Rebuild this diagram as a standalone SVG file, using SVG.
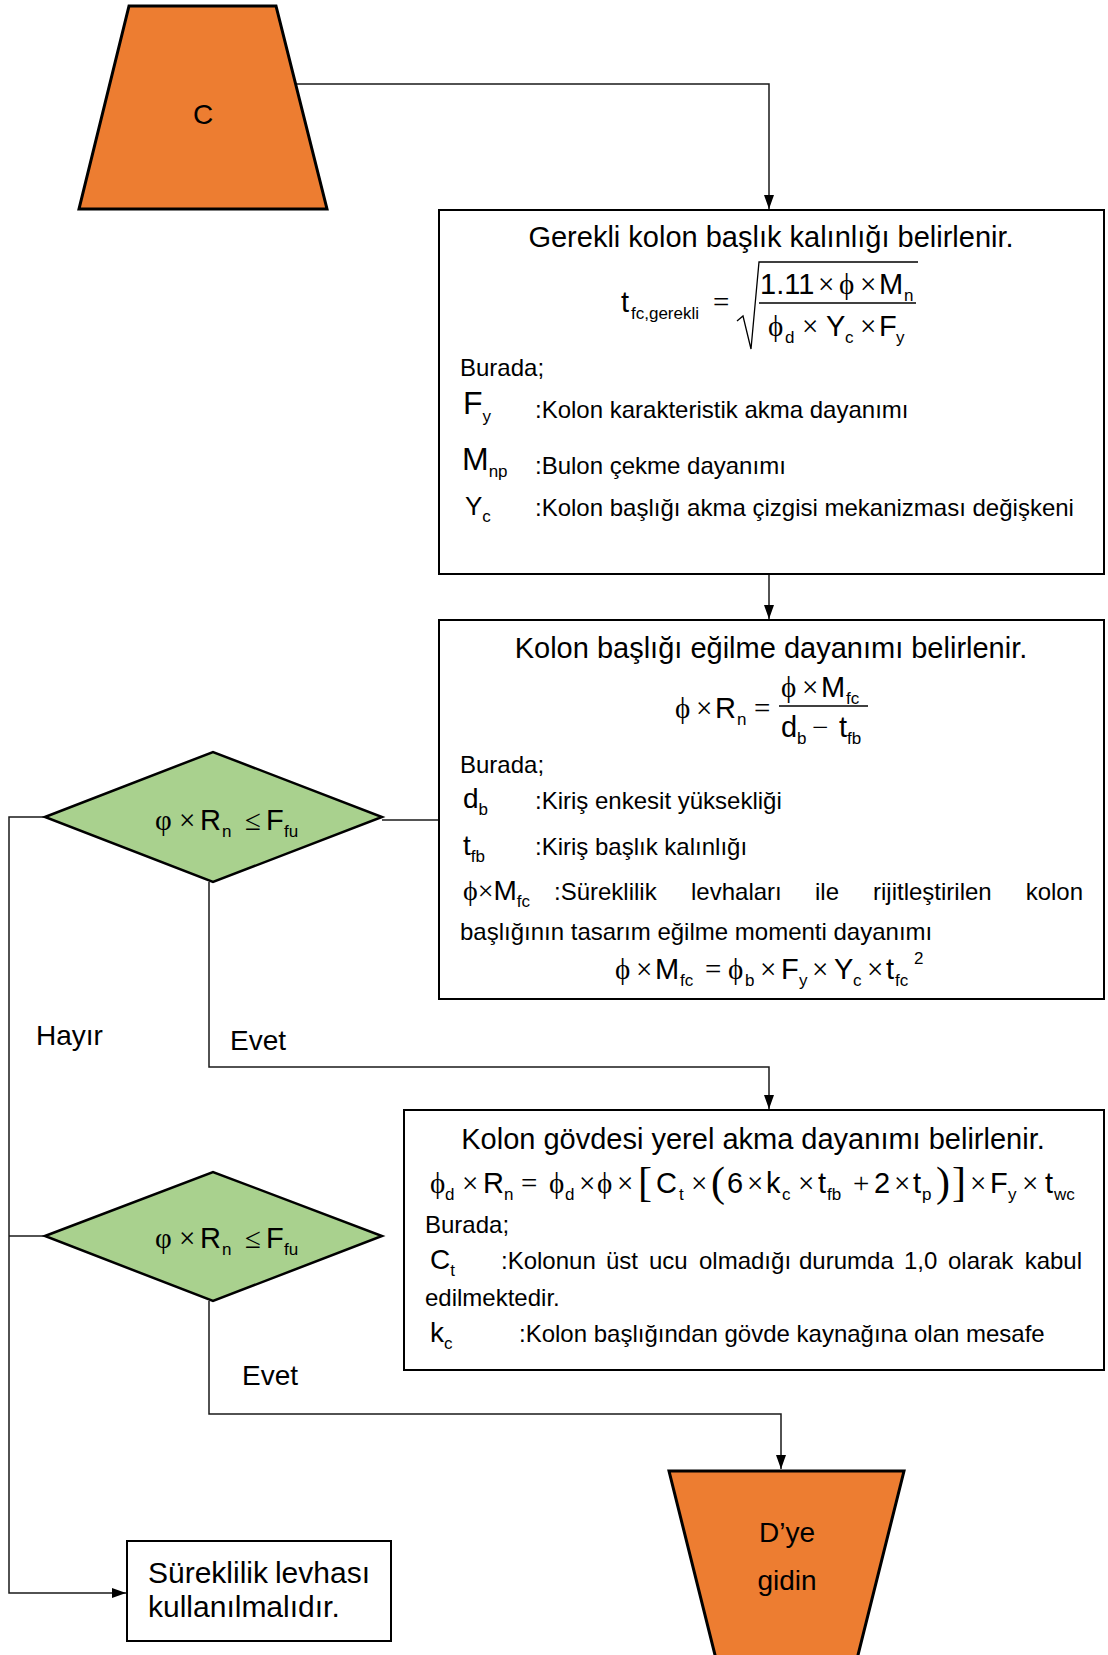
<svg xmlns="http://www.w3.org/2000/svg" width="1108" height="1655" viewBox="0 0 1108 1655">
  <defs>
    <style>
      text { font-family: "Liberation Sans", Arial, sans-serif; fill: #000; }
      .ttl { font-size: 29px; }
      .body { font-size: 24px; }
      .lbl { font-size: 28px; }
      .f { font-size: 29px; }
      .op { font-family: "Liberation Serif", "DejaVu Serif", serif; }
      .sub { font-size: 17px; }
      .br { font-family: "Liberation Serif", "DejaVu Serif", serif; font-size: 42px; font-weight: 300; }
      .box { fill: #fff; stroke: #000; stroke-width: 2; }
      .term { fill: #ED7D31; stroke: #000; stroke-width: 3; }
      .dec { fill: #A9D18E; stroke: #000; stroke-width: 2.5; }
      .conn { fill: none; stroke: #1a1a1a; stroke-width: 1.5; }
      .rule { fill: none; stroke: #000; stroke-width: 1.3; }
    </style>
    <marker id="arr" viewBox="0 0 14 10" markerWidth="14" markerHeight="10" refX="14" refY="5" orient="auto" markerUnits="userSpaceOnUse">
      <path d="M0,0 L14,5 L0,10 z" fill="#000"/>
    </marker>
  </defs>

  <!-- connectors -->
  <g id="connectors">
    <path class="conn" d="M297,84 H769 V209" marker-end="url(#arr)"/>
    <path class="conn" d="M769,575 V619" marker-end="url(#arr)"/>
    <path class="conn" d="M382,820 H439"/>
    <path class="conn" d="M209,882 V1067 H769 V1109" marker-end="url(#arr)"/>
    <path class="conn" d="M45,817 H9 V1593 H126" marker-end="url(#arr)"/>
    <path class="conn" d="M45,1236 H9"/>
    <path class="conn" d="M209,1301 V1414 H781 V1469" marker-end="url(#arr)"/>
  </g>

  <!-- start terminal C -->
  <g id="start-c">
    <polygon class="term" points="129,6 276,6 327,209 79,209"/>
    <text class="lbl" x="203" y="124" text-anchor="middle">C</text>
  </g>

  <!-- step 1: required column flange thickness -->
  <g id="step-flange-thickness">
    <rect class="box" x="439" y="210" width="665" height="364"/>
    <text class="ttl" x="771" y="247" text-anchor="middle">Gerekli kolon başlık kalınlığı belirlenir.</text>
    <text class="f"><tspan x="621" y="312">t</tspan><tspan class="sub" x="631" y="319">fc,gerekli</tspan><tspan class="op" x="713" y="312">=</tspan></text>
    <path class="rule" d="M737,321 L743,316 L751,349 L759,262 H918"/>
    <text class="f"><tspan x="760" y="294">1.11</tspan><tspan class="op" x="818" y="294">×</tspan><tspan class="op" x="839" y="294">ϕ</tspan><tspan class="op" x="860" y="294">×</tspan><tspan x="879" y="294">M</tspan><tspan class="sub" x="904" y="301">n</tspan></text>
    <line class="rule" x1="759" y1="303" x2="916" y2="303"/>
    <text class="f"><tspan class="op" x="768" y="336">ϕ</tspan><tspan class="sub" x="785" y="343">d</tspan><tspan class="op" x="802" y="336">×</tspan><tspan x="826" y="336">Y</tspan><tspan class="sub" x="845" y="343">c</tspan><tspan class="op" x="860" y="336">×</tspan><tspan x="879" y="336">F</tspan><tspan class="sub" x="896" y="343">y</tspan></text>
    <text class="body" x="460" y="376">Burada;</text>
    <text x="463" y="414" font-size="32">F<tspan class="sub" font-size="19" dy="8">y</tspan></text>
    <text class="body" x="535" y="418">:Kolon karakteristik akma dayanımı</text>
    <text x="462" y="470" font-size="32">M<tspan class="sub" font-size="19" dy="7">np</tspan></text>
    <text class="body" x="535" y="474">:Bulon çekme dayanımı</text>
    <text x="465" y="515" font-size="26">Y<tspan class="sub" dy="7">c</tspan></text>
    <text class="body" x="535" y="516">:Kolon başlığı akma çizgisi mekanizması değişkeni</text>
  </g>

  <!-- step 2: column flange bending strength -->
  <g id="step-flange-bending">
    <rect class="box" x="439" y="620" width="665" height="379"/>
    <text class="ttl" x="771" y="658" text-anchor="middle">Kolon başlığı eğilme dayanımı belirlenir.</text>
    <text class="f"><tspan class="op" x="675" y="718">ϕ</tspan><tspan class="op" x="696" y="718">×</tspan><tspan x="715" y="718">R</tspan><tspan class="sub" x="737" y="725">n</tspan><tspan class="op" x="754" y="718">=</tspan></text>
    <text class="f"><tspan class="op" x="781" y="697">ϕ</tspan><tspan class="op" x="802" y="697">×</tspan><tspan x="821" y="697">M</tspan><tspan class="sub" x="846" y="704">fc</tspan></text>
    <line class="rule" x1="779" y1="706" x2="868" y2="706"/>
    <text class="f"><tspan x="781" y="737">d</tspan><tspan class="sub" x="797" y="744">b</tspan><tspan class="op" x="812" y="737">−</tspan><tspan x="839" y="737">t</tspan><tspan class="sub" x="847" y="744">fb</tspan></text>
    <text class="body" x="460" y="773">Burada;</text>
    <text x="463" y="808" font-size="28">d<tspan class="sub" dy="7">b</tspan></text>
    <text class="body" x="535" y="809">:Kiriş enkesit yüksekliği</text>
    <text x="463" y="855" font-size="28">t<tspan class="sub" dy="7">fb</tspan></text>
    <text class="body" x="535" y="855">:Kiriş başlık kalınlığı</text>
    <text x="463" y="900" font-size="28"><tspan class="op">ϕ×</tspan>M<tspan class="sub" dy="7">fc</tspan></text>
    <text class="body" y="900"><tspan x="554">:Süreklilik</tspan><tspan x="691">levhaları</tspan><tspan x="815">ile</tspan><tspan x="873">rijitleştirilen</tspan></text>
    <text class="body" x="1083" y="900" text-anchor="end">kolon</text>
    <text class="body" x="460" y="940">başlığının tasarım eğilme momenti dayanımı</text>
    <text class="f"><tspan class="op" x="615" y="979">ϕ</tspan><tspan class="op" x="636" y="979">×</tspan><tspan x="655" y="979">M</tspan><tspan class="sub" x="680" y="986">fc</tspan><tspan class="op" x="705" y="979">=</tspan><tspan class="op" x="728" y="979">ϕ</tspan><tspan class="sub" x="745" y="986">b</tspan><tspan class="op" x="760" y="979">×</tspan><tspan x="781" y="979">F</tspan><tspan class="sub" x="799" y="986">y</tspan><tspan class="op" x="812" y="979">×</tspan><tspan x="834" y="979">Y</tspan><tspan class="sub" x="853" y="986">c</tspan><tspan class="op" x="867" y="979">×</tspan><tspan x="886" y="979">t</tspan><tspan class="sub" x="895" y="986">fc</tspan><tspan class="sub" x="914" y="964">2</tspan></text>
  </g>

  <!-- decision 1 -->
  <g id="decision-1">
    <polygon class="dec" points="45,817 213,752 382,817 213,882"/>
    <text class="f"><tspan class="op" x="155" y="830">φ</tspan><tspan class="op" x="179" y="830">×</tspan><tspan x="200" y="830">R</tspan><tspan class="sub" x="222" y="837">n</tspan><tspan class="op" x="245" y="830">≤</tspan><tspan x="266" y="830">F</tspan><tspan class="sub" x="284" y="837">fu</tspan></text>
  </g>

  <!-- branch labels -->
  <g id="labels">
    <text class="lbl" x="36" y="1045">Hayır</text>
    <text class="lbl" x="230" y="1050">Evet</text>
    <text class="lbl" x="242" y="1385">Evet</text>
  </g>

  <!-- step 3: column web local yielding -->
  <g id="step-web-yielding">
    <rect class="box" x="404" y="1110" width="700" height="260"/>
    <text class="ttl" x="753" y="1149" text-anchor="middle">Kolon gövdesi yerel akma dayanımı belirlenir.</text>
    <text class="f"><tspan class="op" x="430" y="1193">ϕ</tspan><tspan class="sub" x="445" y="1200">d</tspan><tspan class="op" x="462" y="1193">×</tspan><tspan x="483" y="1193">R</tspan><tspan class="sub" x="504" y="1200">n</tspan><tspan class="op" x="521" y="1193">=</tspan><tspan class="op" x="549" y="1193">ϕ</tspan><tspan class="sub" x="565" y="1200">d</tspan><tspan class="op" x="579" y="1193">×</tspan><tspan class="op" x="597" y="1193">ϕ</tspan><tspan class="op" x="617" y="1193">×</tspan><tspan class="br" x="638" y="1196">[</tspan><tspan x="656" y="1193">C</tspan><tspan class="sub" x="679" y="1200">t</tspan><tspan class="op" x="691" y="1193">×</tspan><tspan class="br" x="711" y="1196">(</tspan><tspan x="727" y="1193">6</tspan><tspan class="op" x="747" y="1193">×</tspan><tspan x="766" y="1193">k</tspan><tspan class="sub" x="782" y="1200">c</tspan><tspan class="op" x="798" y="1193">×</tspan><tspan x="818" y="1193">t</tspan><tspan class="sub" x="827" y="1200">fb</tspan><tspan class="op" x="853" y="1193">+</tspan><tspan x="874" y="1193">2</tspan><tspan class="op" x="894" y="1193">×</tspan><tspan x="913" y="1193">t</tspan><tspan class="sub" x="922" y="1200">p</tspan><tspan class="br" x="936" y="1196">)</tspan><tspan class="br" x="952" y="1196">]</tspan><tspan class="op" x="970" y="1193">×</tspan><tspan x="990" y="1193">F</tspan><tspan class="sub" x="1008" y="1200">y</tspan><tspan class="op" x="1022" y="1193">×</tspan><tspan x="1045" y="1193">t</tspan><tspan class="sub" x="1054" y="1200">wc</tspan></text>
    <text class="body" x="425" y="1233">Burada;</text>
    <text x="430" y="1269" font-size="28">C<tspan class="sub" dy="7">t</tspan></text>
    <text class="body" y="1269"><tspan x="501">:Kolonun</tspan><tspan x="606">üst</tspan><tspan x="649">ucu</tspan><tspan x="699">olmadığı</tspan><tspan x="799">durumda</tspan><tspan x="904">1,0</tspan><tspan x="948">olarak</tspan></text>
    <text class="body" x="1082" y="1269" text-anchor="end">kabul</text>
    <text class="body" x="425" y="1306">edilmektedir.</text>
    <text x="430" y="1342" font-size="28">k<tspan class="sub" dy="7">c</tspan></text>
    <text class="body" x="519" y="1342">:Kolon başlığından gövde kaynağına olan mesafe</text>
  </g>

  <!-- decision 2 -->
  <g id="decision-2">
    <polygon class="dec" points="45,1236 213,1172 382,1236 213,1301"/>
    <text class="f"><tspan class="op" x="155" y="1248">φ</tspan><tspan class="op" x="179" y="1248">×</tspan><tspan x="200" y="1248">R</tspan><tspan class="sub" x="222" y="1255">n</tspan><tspan class="op" x="245" y="1248">≤</tspan><tspan x="266" y="1248">F</tspan><tspan class="sub" x="284" y="1255">fu</tspan></text>
  </g>

  <!-- result: continuity plate required -->
  <g id="result-continuity-plate">
    <rect class="box" x="127" y="1541" width="264" height="100" stroke-width="3"/>
    <text x="148" y="1583" font-size="30">Süreklilik</text>
    <text x="370" y="1583" font-size="30" text-anchor="end">levhası</text>
    <text x="148" y="1617" font-size="30">kullanılmalıdır.</text>
  </g>

  <!-- end terminal: go to D -->
  <g id="goto-d">
    <polygon class="term" points="669,1471 904,1471 843,1715 730,1715"/>
    <text class="lbl" x="787" y="1542" text-anchor="middle">D’ye</text>
    <text class="lbl" x="787" y="1590" text-anchor="middle">gidin</text>
  </g>
</svg>
